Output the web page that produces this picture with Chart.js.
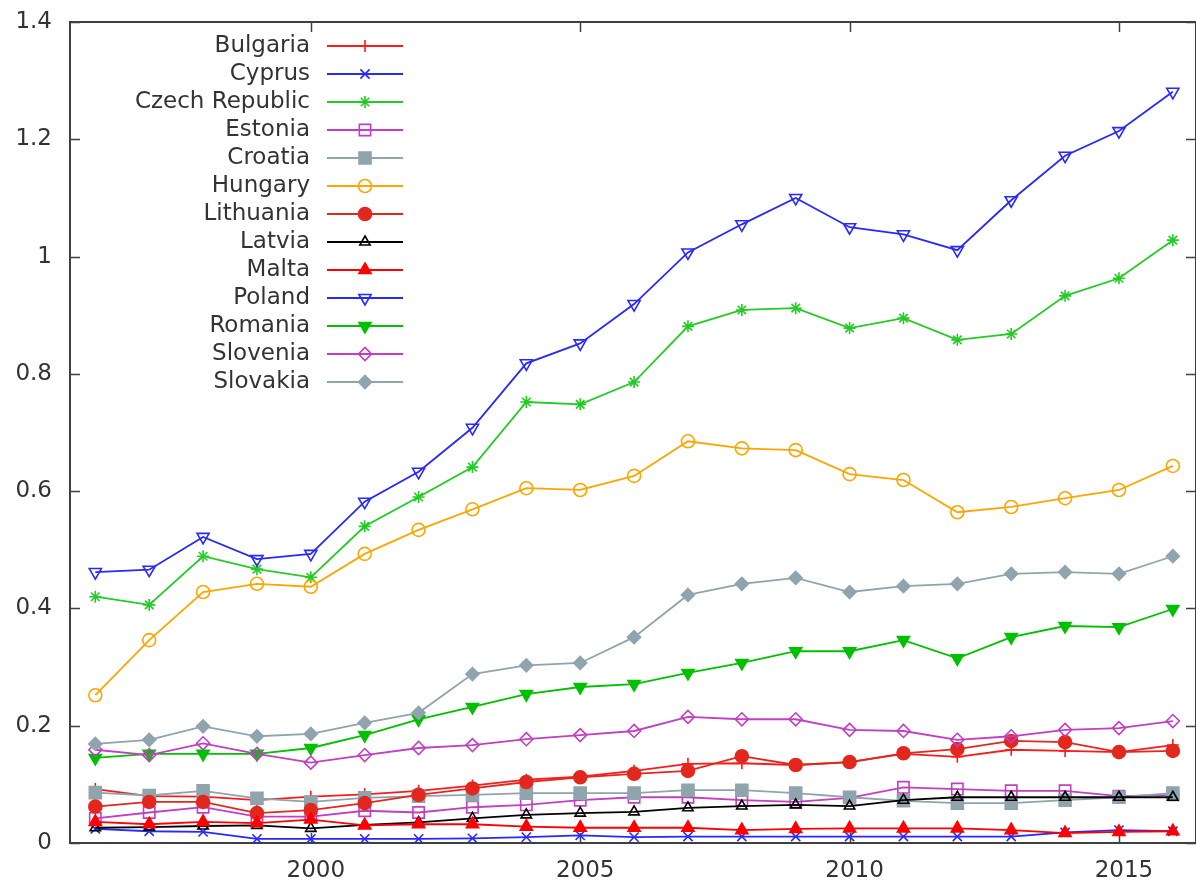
<!DOCTYPE html>
<html lang="en">
<head>
    <meta charset="UTF-8">
    <title>Emissions by country, 1996-2016</title>
    <script src="https://cdn.jsdelivr.net/npm/chart.js@4/dist/chart.umd.min.js"></script>
    <style>
        body {
            margin: 0;
            background: #fff;
            overflow: hidden;
        }
    </style>
</head>
<body>
    <canvas id="chart" width="1196" height="883"></canvas>

    <script>
        const years = [1996, 1997, 1998, 1999, 2000, 2001, 2002, 2003, 2004, 2005, 2006,
                       2007, 2008, 2009, 2010, 2011, 2012, 2013, 2014, 2015, 2016];

        const bulgaria  = [0.092, 0.080, 0.079, 0.073, 0.079, 0.083, 0.089, 0.098, 0.108, 0.113, 0.123, 0.135, 0.136, 0.133, 0.138, 0.152, 0.147, 0.159, 0.157, 0.155, 0.167];
        const cyprus    = [0.024, 0.020, 0.019, 0.007, 0.007, 0.007, 0.007, 0.008, 0.010, 0.013, 0.010, 0.011, 0.011, 0.011, 0.011, 0.011, 0.011, 0.011, 0.018, 0.022, 0.020];
        const czech     = [0.420, 0.406, 0.489, 0.467, 0.453, 0.540, 0.590, 0.641, 0.752, 0.748, 0.786, 0.881, 0.909, 0.912, 0.878, 0.895, 0.858, 0.868, 0.933, 0.963, 1.028];
        const estonia   = [0.042, 0.052, 0.061, 0.045, 0.045, 0.055, 0.052, 0.061, 0.065, 0.073, 0.078, 0.078, 0.073, 0.070, 0.077, 0.095, 0.092, 0.089, 0.089, 0.080, 0.082];
        const croatia   = [0.086, 0.081, 0.089, 0.076, 0.070, 0.077, 0.080, 0.082, 0.085, 0.085, 0.085, 0.090, 0.090, 0.085, 0.078, 0.072, 0.068, 0.068, 0.073, 0.078, 0.085];
        const hungary   = [0.252, 0.346, 0.428, 0.442, 0.437, 0.493, 0.534, 0.569, 0.605, 0.602, 0.626, 0.685, 0.673, 0.670, 0.629, 0.619, 0.564, 0.573, 0.588, 0.602, 0.643];
        const lithuania = [0.062, 0.070, 0.070, 0.051, 0.056, 0.068, 0.082, 0.093, 0.104, 0.112, 0.118, 0.123, 0.148, 0.133, 0.138, 0.153, 0.160, 0.174, 0.172, 0.155, 0.157];
        const latvia    = [0.026, 0.027, 0.029, 0.030, 0.025, 0.031, 0.035, 0.042, 0.048, 0.051, 0.053, 0.060, 0.063, 0.065, 0.063, 0.073, 0.078, 0.078, 0.078, 0.078, 0.078];
        const malta     = [0.036, 0.032, 0.036, 0.034, 0.040, 0.030, 0.032, 0.032, 0.028, 0.026, 0.026, 0.026, 0.022, 0.024, 0.025, 0.025, 0.025, 0.022, 0.017, 0.019, 0.020];
        const poland    = [0.462, 0.466, 0.522, 0.484, 0.493, 0.582, 0.633, 0.708, 0.818, 0.852, 0.919, 1.007, 1.055, 1.100, 1.050, 1.038, 1.011, 1.096, 1.172, 1.214, 1.281];
        const romania   = [0.145, 0.152, 0.152, 0.152, 0.162, 0.184, 0.211, 0.232, 0.254, 0.266, 0.271, 0.290, 0.307, 0.327, 0.327, 0.346, 0.315, 0.351, 0.370, 0.368, 0.399];
        const slovenia  = [0.159, 0.150, 0.170, 0.152, 0.137, 0.150, 0.162, 0.167, 0.177, 0.184, 0.191, 0.215, 0.211, 0.211, 0.193, 0.191, 0.176, 0.182, 0.193, 0.196, 0.208];
        const slovakia  = [0.169, 0.176, 0.199, 0.182, 0.186, 0.205, 0.222, 0.288, 0.303, 0.307, 0.351, 0.423, 0.442, 0.452, 0.428, 0.438, 0.442, 0.459, 0.462, 0.459, 0.489];

        const xTicks = [2000, 2005, 2010, 2015];
        const yTicks = [0, 0.2, 0.4, 0.6, 0.8, 1, 1.2, 1.4];

        const FONT = '"DejaVu Sans", Verdana, sans-serif';
        const TEXT = '#333333';
        const AXIS = '#404040';

        // name, values, colour, marker, rotation, radius, filled
        const series = [
            ['Bulgaria',       bulgaria,  '#ff1a1a', 'cross',    0,   6,   false],
            ['Cyprus',         cyprus,    '#2828ff', 'crossRot', 0,   6.5, false],
            ['Czech Republic', czech,     '#22cc22', 'star',     0,   6,   false],
            ['Estonia',        estonia,   '#c23ec2', 'rect',     0,   8,   false],
            ['Croatia',        croatia,   '#90a4ae', 'rect',     0,   8.5, true],
            ['Hungary',        hungary,   '#ffa500', 'circle',   0,   6.5, false],
            ['Lithuania',      lithuania, '#e2281e', 'circle',   0,   6.5, true],
            ['Latvia',         latvia,    '#000000', 'triangle', 0,   6,   false],
            ['Malta',          malta,     '#ff0000', 'triangle', 0,   7,   true],
            ['Poland',         poland,    '#2828ff', 'triangle', 180, 7,   false],
            ['Romania',        romania,   '#00c000', 'triangle', 180, 7,   true],
            ['Slovenia',       slovenia,  '#c23ec2', 'rectRot',  0,   6.5, false],
            ['Slovakia',       slovakia,  '#90a4ae', 'rectRot',  0,   6.5, true]
        ];

        const datasets = series.map(([name, values, color, style, rot, r, filled], i) => ({
            label: name,
            data: years.map((yr, k) => ({x: yr, y: values[k]})),
            borderColor: color,
            borderWidth: 1.8,
            pointStyle: style,
            pointRotation: rot,
            pointRadius: r,
            pointBorderColor: color,
            pointBackgroundColor: filled ? color : 'rgba(0,0,0,0)',
            pointBorderWidth: 1.6,
            fill: false,
            tension: 0,
            order: series.length - i
        }));

        // box round the plot with inward ticks on all four sides
        const frame = {
            id: 'frame',
            beforeDatasetsDraw(chart) {
                const {ctx, chartArea: a, scales} = chart;
                const len = 10;
                ctx.save();
                ctx.strokeStyle = AXIS;
                ctx.lineWidth = 2;
                ctx.strokeRect(a.left, a.top, a.right - a.left, a.bottom - a.top);
                ctx.lineWidth = 1.5;
                ctx.beginPath();
                xTicks.forEach(v => {
                    const px = Math.round(scales.x.getPixelForValue(v)) + 0.5;
                    ctx.moveTo(px, a.bottom); ctx.lineTo(px, a.bottom - len);
                    ctx.moveTo(px, a.top); ctx.lineTo(px, a.top + len);
                });
                yTicks.forEach(v => {
                    const py = Math.round(scales.y.getPixelForValue(v)) + 0.5;
                    ctx.moveTo(a.left, py); ctx.lineTo(a.left + len, py);
                    ctx.moveTo(a.right, py); ctx.lineTo(a.right - len, py);
                });
                ctx.stroke();
                ctx.restore();
            }
        };

        // key in the top left corner: right-aligned names, then a line sample with its marker
        const key = {
            id: 'key',
            afterDatasetsDraw(chart) {
                const ctx = chart.ctx;
                const textRight = 310, lineFrom = 327, lineTo = 403, top = 46, step = 28;
                ctx.save();
                ctx.font = '23px ' + FONT;
                ctx.textAlign = 'right';
                ctx.textBaseline = 'middle';
                chart.data.datasets.forEach((ds, i) => {
                    const y = top + i * step;
                    ctx.fillStyle = TEXT;
                    ctx.fillText(ds.label, textRight, y);
                    ctx.strokeStyle = ds.borderColor;
                    ctx.lineWidth = ds.borderWidth;
                    ctx.beginPath();
                    ctx.moveTo(lineFrom, y);
                    ctx.lineTo(lineTo, y);
                    ctx.stroke();
                    ctx.fillStyle = ds.pointBackgroundColor;
                    ctx.lineWidth = ds.pointBorderWidth;
                    Chart.helpers.drawPoint(ctx, {
                        pointStyle: ds.pointStyle,
                        rotation: ds.pointRotation,
                        radius: ds.pointRadius,
                        borderWidth: ds.pointBorderWidth
                    }, (lineFrom + lineTo) / 2, y);
                });
                ctx.restore();
            }
        };

        new Chart(document.getElementById('chart'), {
            type: 'line',
            data: {datasets},
            options: {
                responsive: false,
                animation: false,
                layout: {
                    autoPadding: false,
                    padding: {top: 22, right: 0, bottom: 0, left: 0}
                },
                plugins: {
                    legend: {display: false},
                    tooltip: {enabled: false}
                },
                scales: {
                    x: {
                        type: 'linear',
                        min: 1995.53,
                        max: 2016.43,
                        grid: {display: false, drawTicks: false},
                        border: {display: false},
                        afterBuildTicks: scale => { scale.ticks = xTicks.map(v => ({value: v})); },
                        afterFit: scale => {
                            scale.height = 40;
                            scale.paddingLeft = 0;
                            scale.paddingRight = 0;
                        },
                        ticks: {
                            color: TEXT,
                            font: {family: FONT, size: 23},
                            padding: 14,
                            labelOffset: 5,
                            maxRotation: 0,
                            callback: v => String(v)
                        }
                    },
                    y: {
                        type: 'linear',
                        min: 0,
                        max: 1.4,
                        grid: {display: false, drawTicks: false},
                        border: {display: false},
                        afterBuildTicks: scale => { scale.ticks = yTicks.map(v => ({value: v})); },
                        afterFit: scale => {
                            scale.width = 70;
                            scale.paddingTop = 0;
                            scale.paddingBottom = 0;
                        },
                        ticks: {
                            color: TEXT,
                            font: {family: FONT, size: 23},
                            padding: 18,
                            callback: v => String(v)
                        }
                    }
                }
            },
            plugins: [frame, key]
        });
    </script>
</body>
</html>
